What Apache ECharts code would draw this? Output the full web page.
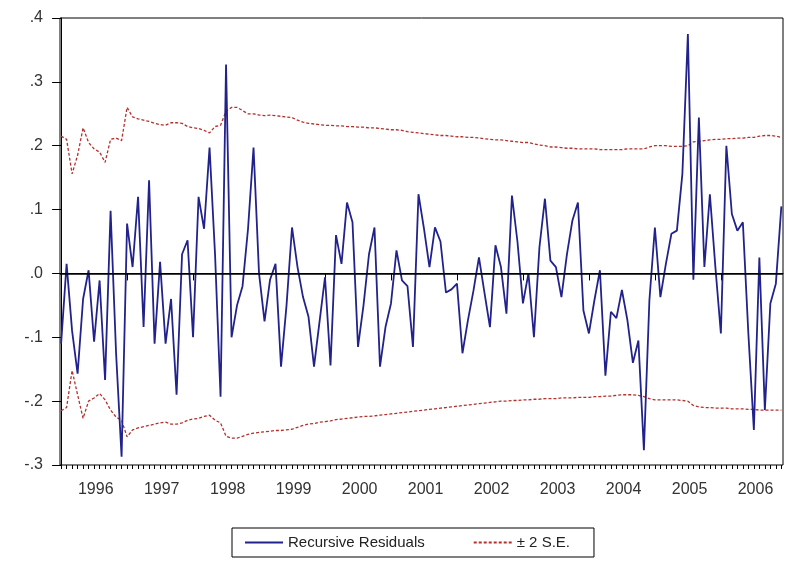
<!DOCTYPE html>
<html>
<head>
<meta charset="utf-8">
<script src="https://cdn.jsdelivr.net/npm/echarts@6/dist/echarts.min.js"></script>
<style>
html,body{margin:0;padding:0;background:#fff;}
#chart{width:787px;height:563px;}
</style>
</head>
<body>
<div id="chart"></div>
<script>
// Monthly observations 1996M01 .. 2006M12 (index 0..131)
const startYear = 1996;
const yearLabels = ['1996','1997','1998','1999','2000','2001','2002','2003','2004','2005','2006'];
const yTickValues = [-0.3,-0.2,-0.1,0,0.1,0.2,0.3,0.4];
const yTickLabels = ['-.3','-.2','-.1','.0','.1','.2','.3','.4'];

const recursiveResiduals = [
 -0.11, 0.015, -0.09, -0.157, -0.04, 0.005, -0.107, -0.011, -0.167, 0.098, -0.125, -0.287,
 0.078, 0.01, 0.12, -0.084, 0.146, -0.11, 0.018, -0.11, -0.04, -0.19, 0.03, 0.052,
 -0.10, 0.12, 0.07, 0.197, 0.03, -0.193, 0.327, -0.10, -0.05, -0.02, 0.07, 0.197,
 0.0, -0.075, -0.01, 0.015, -0.146, -0.05, 0.072, 0.01, -0.037, -0.068, -0.146, -0.076,
 -0.006, -0.144, 0.06, 0.015, 0.111, 0.08, -0.115, -0.05, 0.03, 0.072, -0.146, -0.084,
 -0.047, 0.036, -0.011, -0.02, -0.115, 0.124, 0.07, 0.01, 0.072, 0.05, -0.03, -0.025,
 -0.016, -0.125, -0.073, -0.027, 0.025, -0.03, -0.084, 0.044, 0.01, -0.063, 0.122, 0.05,
 -0.047, 0.0, -0.1, 0.041, 0.117, 0.02, 0.01, -0.037, 0.03, 0.083, 0.111, -0.058,
 -0.094, -0.042, 0.005, -0.16, -0.06, -0.07, -0.026, -0.073, -0.14, -0.105, -0.277, -0.042,
 0.072, -0.037, 0.015, 0.062, 0.067, 0.156, 0.375, -0.01, 0.244, 0.01, 0.124, 0.01,
 -0.094, 0.2, 0.093, 0.067, 0.08, -0.094, -0.245, 0.025, -0.214, -0.047, -0.016, 0.105
];

const upperBand = [
 0.215, 0.21, 0.156, 0.185, 0.228, 0.205, 0.195, 0.19, 0.174, 0.21, 0.212, 0.208,
 0.26, 0.245, 0.242, 0.24, 0.238, 0.235, 0.233, 0.232, 0.236, 0.236, 0.235, 0.23,
 0.228, 0.227, 0.224, 0.22, 0.23, 0.232, 0.254, 0.26, 0.26, 0.255, 0.25, 0.25,
 0.248, 0.247, 0.248, 0.247, 0.246, 0.245, 0.244, 0.24, 0.237, 0.235, 0.234, 0.233,
 0.232, 0.232, 0.231, 0.231, 0.23, 0.23, 0.229, 0.229, 0.228, 0.228, 0.227, 0.226,
 0.225, 0.225, 0.224, 0.222, 0.221, 0.22, 0.219, 0.218, 0.217, 0.216, 0.216, 0.215,
 0.214, 0.214, 0.213, 0.213, 0.212, 0.211, 0.21, 0.209, 0.209, 0.208, 0.207, 0.206,
 0.205, 0.205, 0.203, 0.201, 0.2, 0.198, 0.198, 0.197, 0.196, 0.196, 0.195, 0.195,
 0.195, 0.195, 0.194, 0.194, 0.194, 0.194, 0.194, 0.195, 0.195, 0.195, 0.195, 0.198,
 0.2, 0.2, 0.2, 0.199, 0.199, 0.199, 0.2, 0.206, 0.207, 0.208, 0.209, 0.21,
 0.21, 0.211, 0.211, 0.212, 0.212, 0.213, 0.213, 0.215, 0.216, 0.216, 0.215, 0.213
];

const lowerBand = [
 -0.215, -0.21, -0.152, -0.19, -0.227, -0.2, -0.195, -0.188, -0.198, -0.214, -0.225, -0.23,
 -0.256, -0.245, -0.242, -0.24, -0.238, -0.236, -0.234, -0.233, -0.236, -0.236, -0.234, -0.23,
 -0.228, -0.227, -0.224, -0.222, -0.23, -0.234, -0.255, -0.258, -0.258, -0.255, -0.252, -0.25,
 -0.249, -0.248, -0.247, -0.246, -0.246, -0.245, -0.244, -0.241, -0.238, -0.236, -0.235, -0.233,
 -0.232, -0.231, -0.229, -0.228, -0.227, -0.226, -0.225, -0.224, -0.224, -0.223, -0.222, -0.221,
 -0.22, -0.219, -0.218, -0.217, -0.216, -0.215, -0.214, -0.213, -0.212, -0.211, -0.21, -0.209,
 -0.208, -0.207, -0.206, -0.205, -0.204, -0.203, -0.202, -0.201, -0.2, -0.2, -0.199, -0.199,
 -0.198, -0.198, -0.197, -0.197, -0.196, -0.196, -0.196, -0.195, -0.195, -0.195, -0.194, -0.194,
 -0.194, -0.193, -0.193, -0.192, -0.192, -0.191, -0.19, -0.19, -0.19, -0.191, -0.193, -0.196,
 -0.198, -0.198, -0.198, -0.198, -0.198, -0.199, -0.2, -0.207, -0.209, -0.21, -0.21, -0.211,
 -0.211, -0.211, -0.212, -0.212, -0.212, -0.213, -0.213, -0.214, -0.214, -0.214, -0.214, -0.214
];

const monthIdx = recursiveResiduals.map((_, i) => i);
const yearStartIdx = yearLabels.map((_, k) => k * 12);
const yearLabelPos = yearLabels.map((_, k) => k * 12 + 6.3);

const pairs = arr => arr.map((v, i) => [monthIdx[i], v]);

const chart = echarts.init(document.getElementById('chart'), null, {renderer: 'canvas'});
const FONT = 'Liberation Sans, Arial, sans-serif';
const xMin = -0.2, xMax = 131.3;

chart.setOption({
  backgroundColor: '#ffffff',
  animation: false,
  grid: {left: 60, right: 4, top: 18, bottom: 98, show: true, borderColor: '#000', borderWidth: 1, backgroundColor: 'transparent'},
  xAxis: [
    {
      type: 'value', min: xMin, max: xMax, position: 'bottom',
      axisLine: {show: true, lineStyle: {color: '#000', width: 1}},
      axisTick: {show: true, inside: false, length: 7, customValues: yearStartIdx, lineStyle: {color: '#000', width: 1}},
      axisLabel: {show: true, customValues: yearLabelPos, margin: 17, color: '#333', fontSize: 16, fontFamily: FONT,
        formatter: v => yearLabels[Math.floor(v / 12)] || ''},
      splitLine: {show: false}
    },
    {
      type: 'value', min: xMin, max: xMax, position: 'bottom',
      axisLine: {show: false},
      axisTick: {show: true, inside: false, length: 4, customValues: monthIdx, lineStyle: {color: '#000', width: 1}},
      axisLabel: {show: false},
      splitLine: {show: false}
    }
  ],
  yAxis: {
    type: 'value', min: -0.3, max: 0.4, interval: 0.1,
    axisLine: {show: true, lineStyle: {color: '#000', width: 1}},
    axisTick: {show: true, inside: false, length: 9, lineStyle: {color: '#000', width: 1}},
    axisLabel: {margin: 17, color: '#333', fontSize: 16, fontFamily: FONT,
      formatter: v => {
        let k = yTickValues.findIndex(t => Math.abs(t - v) < 1e-6);
        return k >= 0 ? yTickLabels[k] : '';
      }},
    splitLine: {show: false}
  },
  legend: {
    left: 232, top: 528,
    orient: 'horizontal',
    borderColor: '#000', borderWidth: 1, borderRadius: 0,
    padding: [7, 24, 7, 12],
    itemWidth: 38, itemHeight: 12, itemGap: 48,
    itemStyle: {opacity: 0},
    textStyle: {color: '#222', fontSize: 15, fontFamily: FONT},
    data: [
      {name: 'Recursive Residuals'},
      {name: '± 2 S.E.'}
    ]
  },
  series: [
    {
      name: '± 2 S.E.', type: 'line', xAxisIndex: 0, data: pairs(upperBand),
      symbol: 'none', z: 2,
      lineStyle: {color: '#b4302c', width: 1.3, type: [3, 2]},
      itemStyle: {color: '#b4302c'}
    },
    {
      name: '± 2 S.E.', type: 'line', xAxisIndex: 0, data: pairs(lowerBand),
      symbol: 'none', z: 2,
      lineStyle: {color: '#b4302c', width: 1.3, type: [3, 2]},
      itemStyle: {color: '#b4302c'}
    },
    {
      name: 'Recursive Residuals', type: 'line', xAxisIndex: 0, data: pairs(recursiveResiduals),
      symbol: 'none', z: 3,
      lineStyle: {color: '#22228c', width: 1.8},
      itemStyle: {color: '#22228c'},
      markLine: {
        silent: true, symbol: 'none', label: {show: false},
        lineStyle: {color: '#000', width: 1.5, type: 'solid'},
        data: [{yAxis: 0}]
      }
    }
  ]
});
</script>
</body>
</html>
